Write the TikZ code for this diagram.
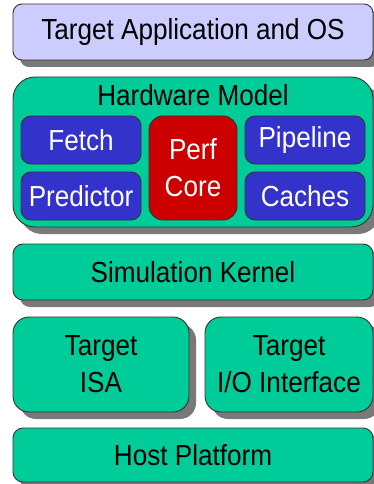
\documentclass[tikz,border=0pt]{standalone}
\usepackage{fontspec}
\setmainfont[FakeStretch=0.9]{Liberation Sans}
\usetikzlibrary{shadows}
\definecolor{lav}{HTML}{CCCCFF}
\definecolor{grn}{HTML}{00CC99}
\definecolor{blu}{HTML}{3333CC}
\definecolor{rd}{HTML}{CC0000}
\definecolor{edge}{HTML}{333333}
\tikzset{
  layer/.style={draw=edge, line width=0.9pt, inner sep=0pt, outer sep=0pt, align=center,
    font=\fontsize{29}{37}\selectfont,
    drop shadow={shadow xshift=7pt, shadow yshift=-7pt, fill=gray!95!black, opacity=1}},
  inner/.style={draw=edge, line width=0.9pt, inner sep=0pt, outer sep=0pt, align=center,
    text=white, font=\fontsize{29}{37}\selectfont, rounded corners=10pt},
}
\begin{document}
\begin{tikzpicture}[x=1pt,y=-1pt]
\useasboundingbox[fill=white] (0,0) rectangle (374,484);
% layers
\node[layer, fill=lav, rounded corners=9pt, minimum width=360pt, minimum height=56pt] (app) at (193,32) {Target Application and OS};
\node[layer, fill=grn, rounded corners=22pt, minimum width=360pt, minimum height=150pt] (hw) at (193,152) {};
\node[font=\fontsize{29}{37}\selectfont, anchor=base] (hwl) at (193,106) {Hardware Model};
\node[inner, fill=blu, minimum width=120pt, minimum height=48pt] (fetch) at (81,140) {Fetch};
\node[inner, fill=blu, minimum width=120pt, minimum height=48pt] (pred) at (81,196) {Predictor};
\node[inner, fill=rd, minimum width=88pt, minimum height=104pt, rounded corners=14pt] (perf) at (193,168) {Perf\\Core};
\node[inner, fill=blu, minimum width=120pt, minimum height=48pt] (pipe) at (305,140) {Pipeline};
\node[inner, fill=blu, minimum width=120pt, minimum height=48pt] (cache) at (305,196) {Caches};
\node[layer, fill=grn, rounded corners=10pt, minimum width=360pt, minimum height=56pt] (sim) at (193,272) {Simulation Kernel};
\node[layer, fill=grn, rounded corners=16pt, minimum width=176pt, minimum height=95pt] (isa) at (101,364.5) {Target\\ISA};
\node[layer, fill=grn, rounded corners=16pt, minimum width=168pt, minimum height=95pt] (io) at (289,364.5) {Target\\I/O Interface};
\node[layer, fill=grn, rounded corners=10pt, minimum width=360pt, minimum height=54pt] (host) at (193,455) {Host Platform};
\end{tikzpicture}
\end{document}
